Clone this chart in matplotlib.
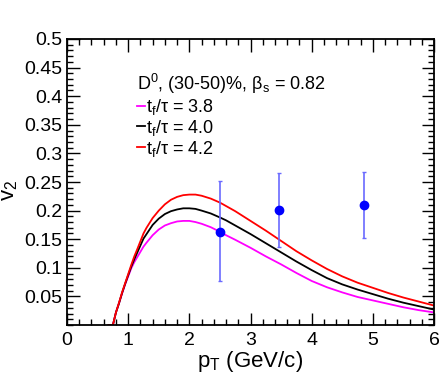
import matplotlib
matplotlib.use("Agg")
import matplotlib.pyplot as plt
from matplotlib.ticker import MultipleLocator

plt.rcParams['font.family'] = ['Liberation Sans', 'DejaVu Sans']
plt.rcParams['mathtext.fontset'] = 'custom'
plt.rcParams['mathtext.rm'] = 'Liberation Sans'
plt.rcParams['mathtext.it'] = 'Liberation Sans'

# model curves, v2 vs pT for three freeze-out times
pt_model = [0.68, 0.75, 0.8, 0.85, 0.9, 0.95, 1.0, 1.05, 1.1, 1.15, 1.25, 1.3, 1.4,
            1.5, 1.6, 1.7, 1.8, 1.9, 2.0, 2.1, 2.2, 2.35, 2.5, 2.6, 2.75, 3.0, 3.25,
            3.5, 3.75, 4.0, 4.25, 4.5, 4.75, 5.0, 5.25, 5.5, 5.75, 6.0]
v2_38 = [0, 0, 0.022, 0.038, 0.055, 0.071, 0.085, 0.099, 0.110, 0.119, 0.137, 0.144,
         0.157, 0.167, 0.174, 0.178, 0.181, 0.182, 0.182, 0.180, 0.177, 0.171, 0.163,
         0.157, 0.149, 0.135, 0.120, 0.106, 0.091, 0.077, 0.066, 0.057, 0.049, 0.043,
         0.037, 0.031, 0.026, 0.022]
v2_40 = [0, 0, 0.022, 0.038, 0.056, 0.072, 0.087, 0.102, 0.115, 0.127, 0.151, 0.159,
         0.175, 0.186, 0.194, 0.199, 0.202, 0.204, 0.204, 0.203, 0.200, 0.195, 0.188,
         0.183, 0.174, 0.159, 0.143, 0.127, 0.111, 0.096, 0.082, 0.071, 0.062, 0.054,
         0.046, 0.039, 0.033, 0.027]
v2_42 = [0, 0, 0.022, 0.039, 0.057, 0.073, 0.089, 0.105, 0.120, 0.133, 0.160, 0.170,
         0.187, 0.200, 0.211, 0.219, 0.224, 0.227, 0.228, 0.228, 0.226, 0.221, 0.214,
         0.208, 0.199, 0.182, 0.165, 0.147, 0.129, 0.113, 0.098, 0.085, 0.074, 0.065,
         0.056, 0.048, 0.041, 0.034]

# measured D0 points
pt_data = [2.5, 3.47, 4.85]
v2_data = [0.163, 0.201, 0.210]
err_lo = [0.086, 0.065, 0.058]
err_hi = [0.088, 0.064, 0.058]

fig = plt.figure(figsize=(4.48, 3.83), dpi=100)
ax = fig.add_axes([0.1496, 0.1514, 0.8192, 0.7468])

ax.plot(pt_model, v2_38, color='#ff00ff', lw=1.3, label=r'$\mathregular{t_f/\tau}$ = 3.8')
ax.plot(pt_model, v2_40, color='black', lw=1.3, label=r'$\mathregular{t_f/\tau}$ = 4.0')
ax.plot(pt_model, v2_42, color='red', lw=1.3, label=r'$\mathregular{t_f/\tau}$ = 4.2')

ax.errorbar(pt_data, v2_data, yerr=[err_lo, err_hi], fmt='o', color='#0000ff',
            ecolor='#6a6aff', elinewidth=1.2, capsize=1.5, ms=6, zorder=5)

ax.set_xlim(0, 6)
ax.set_ylim(0, 0.5)
ax.set_xticks([0, 1, 2, 3, 4, 5, 6])
ax.set_yticks([0.05, 0.1, 0.15, 0.2, 0.25, 0.3, 0.35, 0.4, 0.45, 0.5])
ax.set_yticklabels(['0.05', '0.1', '0.15', '0.2', '0.25', '0.3', '0.35', '0.4', '0.45', '0.5'])
ax.xaxis.set_minor_locator(MultipleLocator(0.2))
ax.yaxis.set_minor_locator(MultipleLocator(0.01))
ax.tick_params(which='both', direction='in', top=True, right=True, labelsize=14)
ax.tick_params(which='major', length=9, width=1)
ax.tick_params(which='minor', length=4.5, width=1)
ax.tick_params(axis='x', pad=5)
for s in ax.spines.values():
    s.set_linewidth(1.3)

ax.set_xlabel(r'$\mathregular{p_T}$ (GeV/c)', fontsize=16, labelpad=0)
ax.set_ylabel(r'$\mathregular{v_2}$', fontsize=16)
ax.yaxis.set_label_coords(-0.128, 0.47)

leg = ax.legend(loc='upper left', bbox_to_anchor=(0.19, 0.885), frameon=False,
                fontsize=13, handlelength=0.45, handletextpad=0.05,
                labelspacing=0.05, borderpad=0, borderaxespad=0,
                title=r'$\mathregular{D^0}$, (30-50)%, $\mathregular{\beta_s}$ = 0.82',
                title_fontsize=13, alignment='left')

fig.savefig('out.png', dpi=100)
